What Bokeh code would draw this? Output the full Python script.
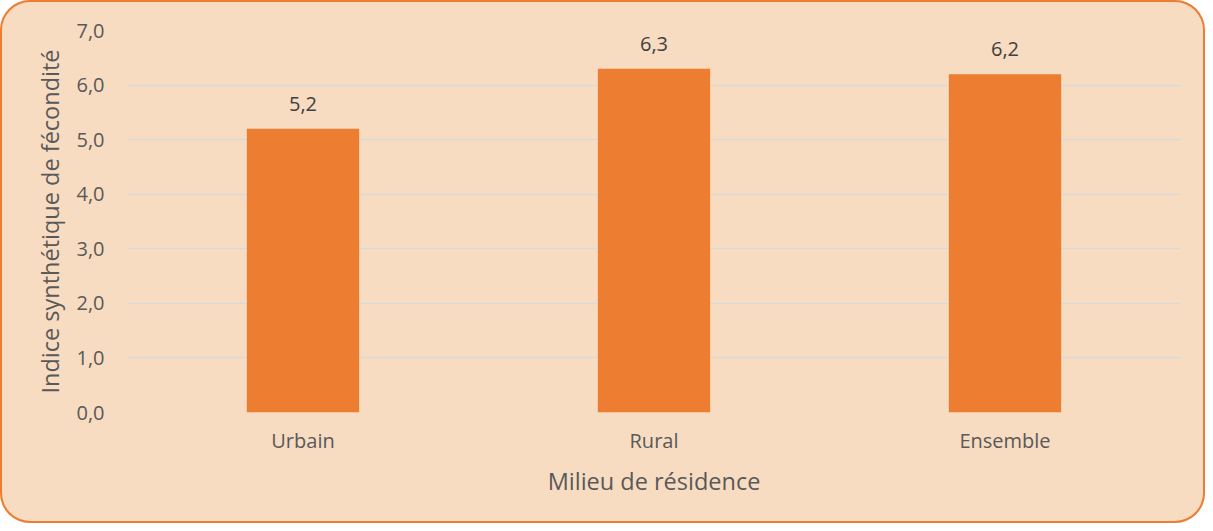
from bokeh.plotting import figure
from bokeh.models import ColumnDataSource, FixedTicker, LabelSet, FactorRange, Range1d
from bokeh.core.properties import value
from bokeh.embed import file_html
from bokeh.resources import INLINE

categories = ["Urbain", "Rural", "Ensemble"]
values = [5.2, 6.3, 6.2]
value_labels = ["5,2", "6,3", "6,2"]
y_ticks = [0, 1, 2, 3, 4, 5, 6, 7]
y_tick_labels = ["0,0", "1,0", "2,0", "3,0", "4,0", "5,0", "6,0", "7,0"]
x_title = "Milieu de résidence"
y_title = "Indice synthétique de fécondité"

FONT = "Open Sans"
BG = "#F7DCC1"
BAR = "#ED7D31"

src = ColumnDataSource(dict(cat=categories, val=values, lab=value_labels))

p = figure(width=1205, height=523, output_backend="svg", toolbar_location=None,
           x_range=FactorRange(*categories, range_padding=0), y_range=Range1d(0, 7),
           min_border_left=127, min_border_right=25, min_border_top=30, min_border_bottom=111)
p.border_fill_color = None
p.background_fill_color = None
p.outline_line_color = None
p.styles = {"background-color": BG, "border-radius": "30px",
            "box-shadow": "inset 0 0 0 2px " + BAR}

p.vbar(x="cat", top="val", width=0.32, source=src, fill_color=BAR, line_color=None)

labels = LabelSet(x="cat", y="val", text="lab", source=src, text_align="center",
                  text_baseline="bottom", y_offset=18, text_font=value(FONT),
                  text_font_size="20px", text_color="#404040")
p.add_layout(labels)

p.yaxis.ticker = FixedTicker(ticks=y_ticks)
p.yaxis.major_label_overrides = {t: l for t, l in zip(y_ticks, y_tick_labels)}
p.yaxis.axis_label = y_title
p.xaxis.axis_label = x_title
for ax in (p.xaxis, p.yaxis):
    ax.axis_line_color = None
    ax.major_tick_line_color = None
    ax.minor_tick_line_color = None
    ax.major_label_text_font = FONT
    ax.major_label_text_font_size = "20px"
    ax.major_label_text_color = "#595959"
    ax.axis_label_text_font = FONT
    ax.axis_label_text_font_size = "23.5px"
    ax.axis_label_text_font_style = "normal"
    ax.axis_label_text_color = "#595959"
p.yaxis.major_label_standoff = 17
p.yaxis.axis_label_standoff = 7
p.xaxis.major_label_standoff = 8
p.xaxis.axis_label_standoff = 8

p.xgrid.grid_line_color = None
p.ygrid.grid_line_color = "#D9D9D9"
p.ygrid.grid_line_width = 1.5

open("out.html", "w").write(file_html(p, INLINE))
